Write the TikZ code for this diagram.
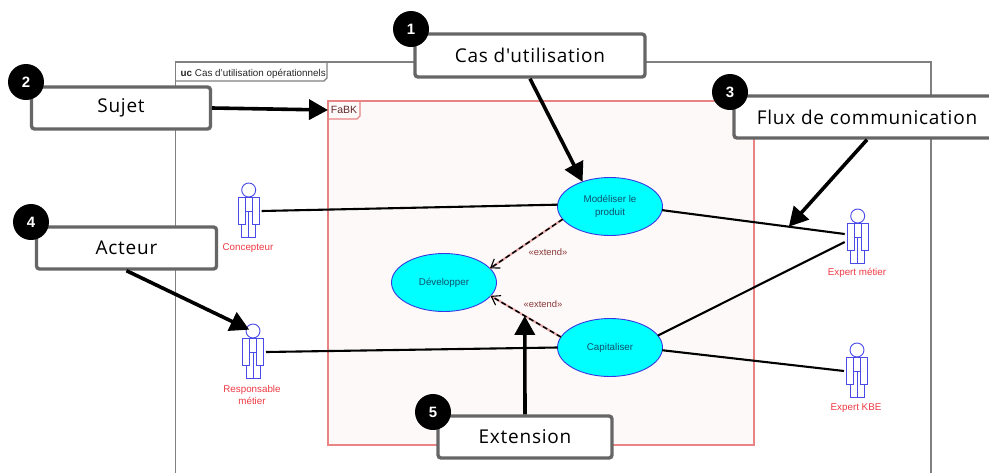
\documentclass[tikz,border=0pt]{standalone}
\usepackage{fontspec}
\setmainfont{Liberation Sans}
\newfontfamily\callfont[LetterSpace=4]{Open Sans}
\usetikzlibrary{arrows.meta,shapes.geometric,calc}
\definecolor{framegray}{HTML}{808080}
\definecolor{boxgray}{HTML}{666666}
\definecolor{subjred}{HTML}{E88484}
\definecolor{subjfill}{HTML}{FEF9F9}
\definecolor{actblue}{HTML}{4A4AE8}
\definecolor{actred}{HTML}{EE3A44}
\definecolor{ucblue}{HTML}{3838E0}
\definecolor{uccyan}{HTML}{00FFFF}
\definecolor{uctext}{HTML}{10506A}
\definecolor{extred}{HTML}{8A3A3A}
\definecolor{linkpink}{HTML}{E8A8A8}
\tikzset{
  callout/.style={draw=boxgray,line width=3.4pt,rounded corners=3pt,fill=white,inner sep=0pt,text=black,
    font=\fontsize{19}{21}\selectfont\callfont},
  badge/.style={circle,fill=black,minimum size=36pt,inner sep=0pt,text=white,font=\fontsize{15}{17}\selectfont\bfseries},
  bigarrow/.style={line width=3.6pt,-{Triangle[length=19pt,width=20pt]}},
  usecase/.style={ellipse,draw=ucblue,fill=uccyan,line width=0.9pt,minimum width=105pt,minimum height=58pt,inner sep=0pt,
    outer sep=0pt,align=center,text=uctext,font=\fontsize{9.8}{13}\selectfont},
  actorname/.style={text=actred,align=center,font=\fontsize{9.8}{12}\selectfont,inner sep=0pt},
  assoc/.style={draw=black,line width=2.1pt},
  extlabel/.style={text=extred,font=\fontsize{9.4}{10}\selectfont,inner sep=0pt},
  actorbox/.style={rectangle,minimum width=26pt,minimum height=60pt,inner sep=0pt,outer sep=0pt},
  actorline/.style={draw=actblue,line width=0.9pt},
}
% \actorfig{name}{head x}{head y}
\newcommand{\actorfig}[3]{%
  \node[actorbox] (#1) at (#2,#3+21) {};
  \node[circle,draw=actblue,line width=0.9pt,minimum size=14pt,inner sep=0pt,outer sep=0pt] (#1-head) at (#2,#3) {};
  \begin{scope}[shift={(#2,#3)}]
    \draw[actorline] (-10.5,7) rectangle (-3.5,34);
    \draw[actorline] (3.5,7) rectangle (10.5,34);
    \draw[actorline] (-3.5,21) -- (3.5,21);
    \draw[actorline] (-3.5,7) -- (3.5,7);
    \draw[actorline] (-7,34) -- (-7,47) -- (7,47) -- (7,34);
    \draw[actorline] (0,21) -- (0,47);
  \end{scope}
}
\begin{document}
\begin{tikzpicture}[x=1pt,y=-1pt]
\clip (0,0) rectangle (989,472);
\fill[white] (0,0) rectangle (989,472);
% outer frame
\draw[framegray,line width=1.2pt] (175.5,480) -- (175.5,62) -- (931,62) -- (931,480);
\draw[framegray,line width=1.2pt] (175.5,81) -- (324,81) -- (327,78) -- (327,62);
\node[anchor=west,inner sep=0pt,font=\fontsize{9.85}{11}\selectfont,text=black!85] (uclabel) at (180.5,73.5) {\textbf{uc} Cas d'utilisation opérationnels};
% subject
\draw[subjred,fill=subjfill,line width=1.3pt] (328,101) rectangle (754,445);
\draw[subjred,line width=1.1pt] (328,119) -- (357,119) -- (360,116) -- (360,101);
\node[inner sep=0pt,outer sep=0pt,minimum width=32pt,minimum height=18pt,font=\fontsize{10.5}{12}\selectfont,text=extred!70!black] (fabk) at (344,110) {FaBK};
% use cases
\node[usecase] (mod) at (610,206.5) {Modéliser le\\produit};
\node[usecase] (dev) at (444,282.5) {Développer};
\node[usecase] (cap) at (610,347.5) {Capitaliser};
% actors
\actorfig{conc}{248.7}{190}
\actorfig{resp}{253}{331}
\actorfig{expm}{857.7}{216}
\actorfig{expk}{857}{350}
\node[actorname] (concname) at (248,248) {Concepteur};
\node[actorname] (respname) at (252,395) {Responsable\\métier};
\node[actorname] (expmname) at (857,273) {Expert métier};
\node[actorname] (expkname) at (856,408) {Expert KBE};
% associations
\draw[assoc] (conc.east) -- (mod.178);
\draw[assoc] (resp.east) -- (cap.180);
\draw[assoc] (mod.-4) -- (expm.167) coordinate[pos=0.694] (fluxtarget);
\draw[assoc] (cap.14) -- (expm.201);
\draw[assoc] (cap.-3) -- (expk.west);
% extends
\draw[linkpink,line width=2.2pt] (mod.195) -- (dev.17);
\draw[linkpink,line width=2.2pt] (cap.168) -- (dev.-16) coordinate[pos=0.515] (exttarget);
\draw[black,line width=1.5pt,dashed,dash pattern=on 5pt off 3pt,-{Straight Barb[length=8pt,width=11pt,line width=1.1pt]}] (mod.195) -- (dev.17);
\draw[black,line width=1.5pt,dashed,dash pattern=on 5pt off 3pt,-{Straight Barb[length=8pt,width=11pt,line width=1.1pt]}] (cap.168) -- (dev.-16);
\node[extlabel] (ext1) at (548,252) {«extend»};
\node[extlabel] (ext2) at (543,304) {«extend»};
% callouts
\node[callout,minimum width=230pt,minimum height=43pt] (cas) at (530,55.5) {Cas d'utilisation};
\node[callout,minimum width=179pt,minimum height=42pt] (suj) at (121,108) {Sujet};
\node[callout,minimum width=266pt,minimum height=42pt] (flux) at (867,117) {Flux de communication};
\node[callout,minimum width=180pt,minimum height=42pt] (act) at (126.5,248) {Acteur};
\node[callout,minimum width=174pt,minimum height=42pt] (extn) at (525,437) {Extension};
\node[badge] (b1) at (411,29) {1};
\node[badge] (b2) at (26,82) {2};
\node[badge] (b3) at (730,92) {3};
\node[badge] (b4) at (31,222) {4};
\node[badge] (b5) at (433,412) {5};
% callout arrows
\draw[bigarrow] (suj.east) -- (fabk.west);
\draw[bigarrow] (cas.south) -- (mod.138);
\draw[bigarrow] (flux.south) -- (fluxtarget);
\draw[bigarrow,shorten >=-3pt] (act.south) -- (resp-head.158);
\draw[bigarrow] (extn.north) -- (exttarget);
\end{tikzpicture}
\end{document}
